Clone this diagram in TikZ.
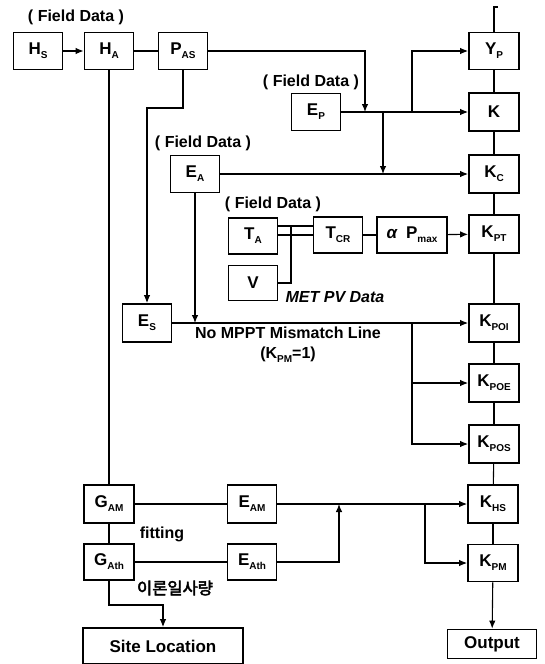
\documentclass[tikz,border=0pt]{standalone}
\usepackage{fontspec}
\setmainfont{Liberation Sans}
\newfontfamily\krfont{Noto Sans CJK KR}[FakeBold=3]
\usetikzlibrary{arrows.meta, positioning, calc}
\newcommand{\lowsub}[1]{\raisebox{-0.45ex}{\fontsize{10}{10}\selectfont #1}}

\begin{document}
\begin{tikzpicture}[x=1pt, y=-1pt, line width=1.1pt,
    box/.style={draw, line width=1.8pt, minimum width=49pt, minimum height=37pt, inner sep=0pt, font=\bfseries\fontsize{17}{17}\selectfont},
    lbl/.style={font=\bfseries\fontsize{16}{16}\selectfont},
    arr/.style={-{Latex[length=8pt,width=6.5pt]}}]
  \useasboundingbox (0,0) rectangle (544,664);
  % Field data labels
  \node[lbl] (fd1) at (76,17) {( Field Data )};
  \node[lbl] (fd2) at (311,82) {( Field Data )};
  \node[lbl] (fd3) at (203,143) {( Field Data )};
  \node[lbl] (fd4) at (273,204) {( Field Data )};
  % Top row
  \node[box] (hs) at (38,51) {H\lowsub{S}};
  \node[box] (ha) at (109,51) {H\lowsub{A}};
  \node[box] (pas) at (183,51) {P\lowsub{AS}};
  % Inputs in the middle
  \node[box] (ep) at (316,112) {E\lowsub{P}};
  \node[box] (ea) at (195,174) {E\lowsub{A}};
  \node[box, minimum height=36pt] (ta) at (253,236) {T\lowsub{A}};
  \node[box, minimum height=35pt] (v) at (253,283) {V};
  \node[box, minimum height=36pt] (tcr) at (338,235) {T\lowsub{CR}};
  \node[box, minimum width=70pt, minimum height=36pt] (apm) at (412,235) {\textit{α}\enspace P\lowsub{max}};
  \node[box, minimum height=38pt] (es) at (147,323) {E\lowsub{S}};
  % Bottom left
  \node[box, minimum width=50pt, minimum height=38pt] (gam) at (109,504) {G\lowsub{AM}};
  \node[box, minimum width=50pt, minimum height=36pt] (gath) at (109,562) {G\lowsub{Ath}};
  \node[box, minimum height=38pt] (eam) at (252,504) {E\lowsub{AM}};
  \node[box, minimum height=36pt] (eath) at (252,562) {E\lowsub{Ath}};
  \node[box, minimum width=160pt, minimum height=36pt] (site) at (163,646) {Site Location};
  % K column
  \node[box, minimum width=50pt] (yp) at (494,51) {Y\lowsub{P}};
  \node[box, minimum width=50pt, minimum height=38pt] (k) at (494,112) {K};
  \node[box, minimum width=50pt, minimum height=38pt] (kc) at (494,174) {K\lowsub{C}};
  \node[box, minimum width=50pt, minimum height=38pt] (kpt) at (494,234) {K\lowsub{PT}};
  \node[box, minimum width=50pt, minimum height=38pt] (kpoi) at (494,323) {K\lowsub{POI}};
  \node[box, minimum width=50pt, minimum height=38pt] (kpoe) at (494,383) {K\lowsub{POE}};
  \node[box, minimum width=50pt, minimum height=38pt] (kpos) at (494,444) {K\lowsub{POS}};
  \node[box, minimum width=50pt, minimum height=38pt] (khs) at (493,504) {K\lowsub{HS}};
  \node[box, minimum width=50pt, minimum height=37pt] (kpm) at (493,563) {K\lowsub{PM}};
  \node[box, minimum width=89pt, minimum height=29pt] (out) at (492,644) {Output};
  % Other labels
  \node[lbl, font=\bfseries\itshape\fontsize{16}{16}\selectfont] (met) at (335,297) {MET PV Data};
  \node[lbl] (nompp) at (288,333) {No MPPT Mismatch Line};
  \node[lbl] (kpm1) at (288,355) {(K\lowsub{PM}=1)};
  \node[lbl] (fit) at (162,534) {fitting};
  \node[font=\krfont\fontsize{16.5}{16.5}\selectfont] (theo) at (175,588) {이론일사량};
  % Junction points
  \coordinate (j1) at (365,112);
  \coordinate (j2) at (412,112);
  \coordinate (j3) at (383,112);
  \coordinate (j4) at (383,174);
  \coordinate (j5) at (412,323);
  \coordinate (j6) at (339,504);
  \coordinate (j7) at (425,504);
  \coordinate (j8) at (109,605);
  \coordinate (j9) at (183,108);
  \coordinate (tv) at (291,226);
  \coordinate (top) at (494,7);
  % Connectors
  \draw[arr] (hs) -- (ha);
  \draw (ha) -- (pas);
  \draw[arr] (pas.east) -| (j1);
  \draw[arr] (ep) -- (k);
  \draw[arr] (j2) |- (yp);
  \draw[arr] (j3) -- (j4);
  \draw[arr] (ea) -- (kc);
  \draw[arr] (pas.south) -- (j9) -| (es.north);
  \draw[arr] (ea.south) -- (ea.south |- es);
  \draw ([yshift=10pt]ta.east) -- ([yshift=9pt]tcr.west);
  \draw ([yshift=1pt]ta.east) -- ([yshift=0pt]tcr.west);
  \draw (v.east) -| (tv);
  \draw (tcr) -- (apm);
  \draw[arr] (apm) -- (kpt);
  \draw[arr] (es) -- (kpoi);
  \draw[arr] (j5) |- (kpoe);
  \draw[arr] (j5) |- (kpos);
  \draw (ha) -- (gam);
  \draw (gam) -- (gath);
  \draw (gam) -- (eam);
  \draw (gath) -- (eath);
  \draw[arr] (eam) -- (khs);
  \draw[arr] (eath) -| (j6);
  \draw[arr] (j7) |- (kpm);
  \draw[arr] (gath.south) -- (j8) -| (site.north);
  \foreach \a/\b in {yp/k, k/kc, kc/kpt, kpt/kpoi, kpoi/kpoe, kpoe/kpos, kpos/khs, khs/kpm}
    \draw (\a) -- (\b);
  \draw[arr] (kpm) -- (out);
  \draw (yp.north) -- (top) -- ++(4,0);
\end{tikzpicture}
\end{document}
